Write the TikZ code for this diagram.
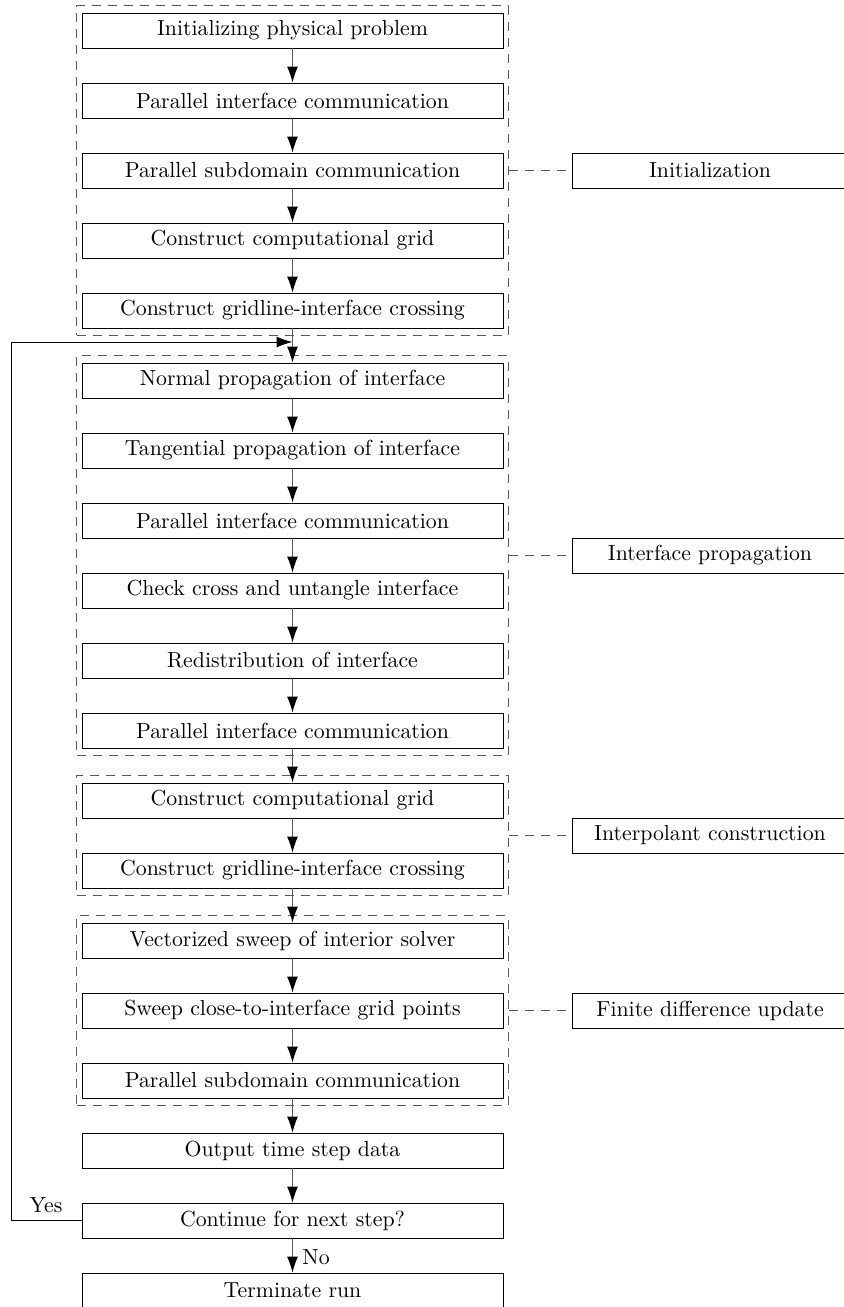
\documentclass[tikz,border=0pt]{standalone}
\usetikzlibrary{arrows.meta,fit,positioning}
\begin{document}
\begin{tikzpicture}[x=0.5pt,y=-0.5pt,
  every node/.style={font=\fontsize{10.9pt}{13pt}\selectfont},
  stepbox/.style={draw=black,line width=0.45pt,minimum width=210.5pt,minimum height=17.5pt,inner sep=0pt},
  tagbox/.style={draw=black,line width=0.45pt,minimum width=137.5pt,minimum height=17.5pt,inner sep=0pt},
  grp/.style={draw=black!65,line width=0.5pt,dash pattern=on 4.5pt off 3.5pt,inner xsep=2.5pt,inner ysep=3.3pt},
  link/.style={draw=black!65,line width=0.5pt,dash pattern=on 4.5pt off 3.5pt},
  flow/.style={draw=black!65,line width=0.5pt,-{Latex[length=8pt,width=5.5pt,color=black]}},
  loopline/.style={draw=black,line width=0.5pt,-{Latex[length=8pt,width=5.5pt,color=black]}}]
\useasboundingbox (0,0) rectangle (843,1307);

% main column of steps
\node[stepbox] (s1)  at (292.5,30.5)   {Initializing physical problem};
\node[stepbox] (s2)  at (292.5,100.5)  {Parallel interface communication};
\node[stepbox] (s3)  at (292.5,170.5)  {Parallel subdomain communication};
\node[stepbox] (s4)  at (292.5,240.5)  {Construct computational grid};
\node[stepbox] (s5)  at (292.5,310.5)  {Construct gridline-interface crossing};
\node[stepbox] (s6)  at (292.5,380.5)  {Normal propagation of interface};
\node[stepbox] (s7)  at (292.5,450.5)  {Tangential propagation of interface};
\node[stepbox] (s8)  at (292.5,520.5)  {Parallel interface communication};
\node[stepbox] (s9)  at (292.5,590.5)  {Check cross and untangle interface};
\node[stepbox] (s10) at (292.5,660.5)  {Redistribution of interface};
\node[stepbox] (s11) at (292.5,730.5)  {Parallel interface communication};
\node[stepbox] (s12) at (292.5,800.5)  {Construct computational grid};
\node[stepbox] (s13) at (292.5,870.5)  {Construct gridline-interface crossing};
\node[stepbox] (s14) at (292.5,940.5)  {Vectorized sweep of interior solver};
\node[stepbox] (s15) at (292.5,1010.5) {Sweep close-to-interface grid points};
\node[stepbox] (s16) at (292.5,1080.5) {Parallel subdomain communication};
\node[stepbox] (s17) at (292.5,1150.5) {Output time step data};
\node[stepbox] (s18) at (292.5,1220.5) {Continue for next step?};
\node[stepbox] (s19) at (292.5,1290.5) {Terminate run};

% dashed groups
\node[grp,fit=(s1)(s5)]   (g1) {};
\node[grp,fit=(s6)(s11)]  (g2) {};
\node[grp,fit=(s12)(s13)] (g3) {};
\node[grp,fit=(s14)(s16)] (g4) {};

% phase labels
\node[tagbox] (t1) at (710,170.5)  {Initialization};
\node[tagbox] (t2) at (710,555.5)  {Interface propagation};
\node[tagbox] (t3) at (710,835.5)  {Interpolant construction};
\node[tagbox] (t4) at (710,1010.5) {Finite difference update};

\draw[link] (t1.west -| g1.east) -- (t1.west);
\draw[link] (t2.west -| g2.east) -- (t2.west);
\draw[link] (t3.west -| g3.east) -- (t3.west);
\draw[link] (t4.west -| g4.east) -- (t4.west);

% flow arrows
\foreach \a/\b in {s1/s2,s2/s3,s3/s4,s4/s5,s5/s6,s6/s7,s7/s8,s8/s9,s9/s10,s10/s11,s11/s12,s12/s13,s13/s14,s14/s15,s15/s16,s16/s17,s17/s18,s18/s19}
  \draw[flow] (\a.south) -- (\b.north);

% loop back for the next step
\coordinate (lc) at (11.5,1220.5);
\coordinate (lt) at (11.5,342);
\coordinate (lj) at (292.5,342);
\draw[loopline] (s18.west) -- (lc) -- (lt) -- (lj);

\node[anchor=south,inner sep=0pt] (yes) at (46,1213) {Yes};
\node[anchor=west,inner sep=0pt] (no) at (302,1257) {No};
\end{tikzpicture}
\end{document}
